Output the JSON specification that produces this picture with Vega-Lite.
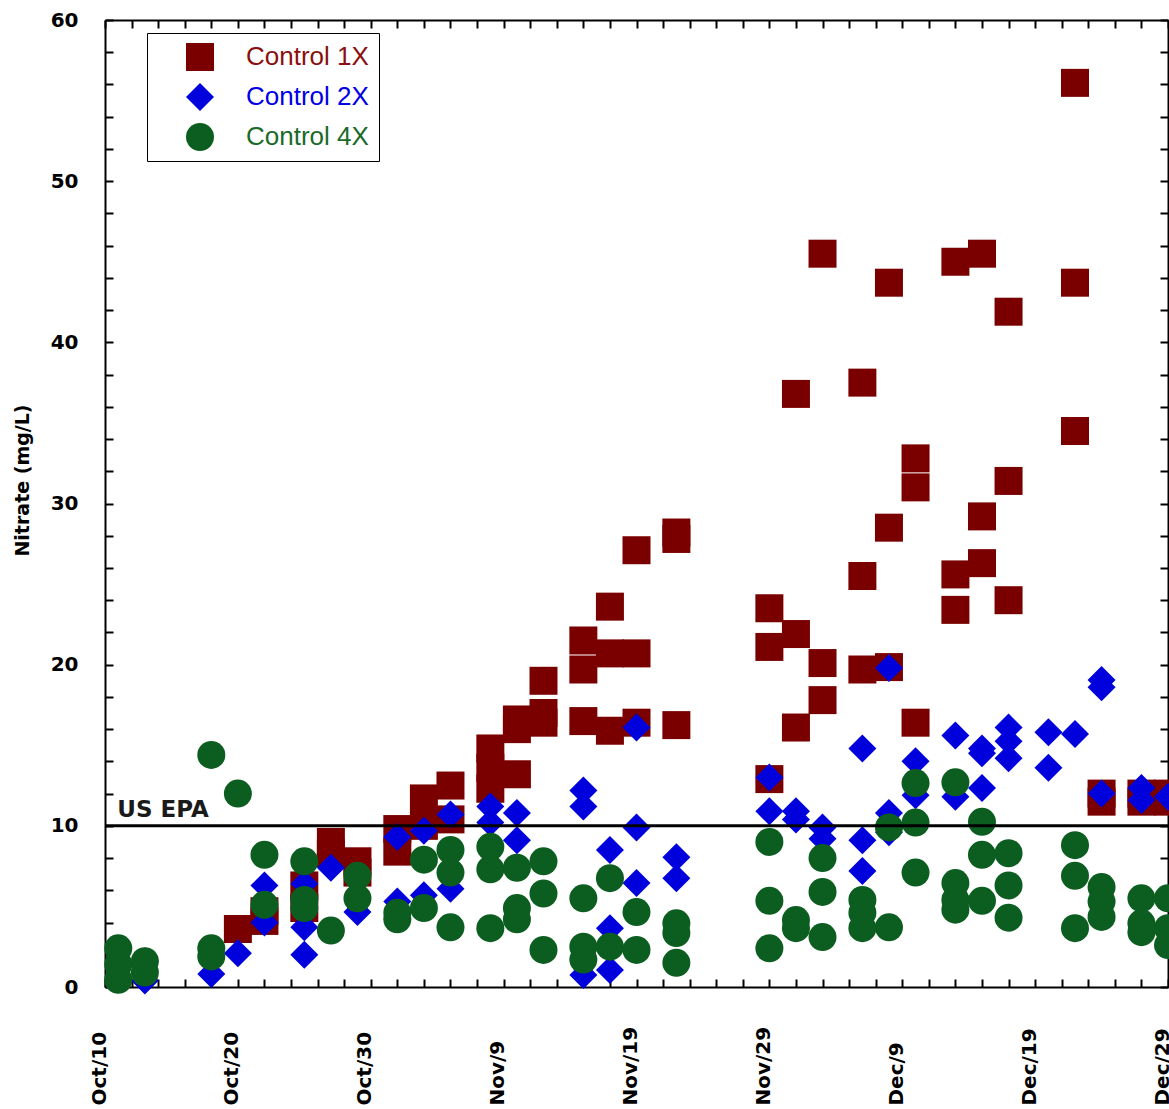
{
  "$schema": "https://vega.github.io/schema/vega-lite/v6.json",
  "width": 1063,
  "height": 967,
  "autosize": {"type": "none"},
  "padding": {"left": 105, "top": 20, "right": 1, "bottom": 122},
  "background": "white",
  "config": {"view": {"stroke": null}},
  "layer": [
    {
      "data": {"values": [
        {"date":"2000/10/20","series":"Control 1X","nitrate":3.6},
        {"date":"2000/10/22","series":"Control 1X","nitrate":4.7},
        {"date":"2000/10/22","series":"Control 1X","nitrate":4.1},
        {"date":"2000/10/25","series":"Control 1X","nitrate":6.3},
        {"date":"2000/10/25","series":"Control 1X","nitrate":4.9},
        {"date":"2000/10/27","series":"Control 1X","nitrate":9.0},
        {"date":"2000/10/27","series":"Control 1X","nitrate":8.3},
        {"date":"2000/10/29","series":"Control 1X","nitrate":7.8},
        {"date":"2000/10/29","series":"Control 1X","nitrate":7.1},
        {"date":"2000/11/01","series":"Control 1X","nitrate":9.8},
        {"date":"2000/11/01","series":"Control 1X","nitrate":8.4},
        {"date":"2000/11/03","series":"Control 1X","nitrate":11.7},
        {"date":"2000/11/03","series":"Control 1X","nitrate":10.0},
        {"date":"2000/11/05","series":"Control 1X","nitrate":12.5},
        {"date":"2000/11/05","series":"Control 1X","nitrate":10.4},
        {"date":"2000/11/08","series":"Control 1X","nitrate":14.8},
        {"date":"2000/11/08","series":"Control 1X","nitrate":13.6},
        {"date":"2000/11/08","series":"Control 1X","nitrate":12.3},
        {"date":"2000/11/10","series":"Control 1X","nitrate":16.6},
        {"date":"2000/11/10","series":"Control 1X","nitrate":16.0},
        {"date":"2000/11/10","series":"Control 1X","nitrate":13.2},
        {"date":"2000/11/12","series":"Control 1X","nitrate":19.0},
        {"date":"2000/11/12","series":"Control 1X","nitrate":17.0},
        {"date":"2000/11/12","series":"Control 1X","nitrate":16.4},
        {"date":"2000/11/15","series":"Control 1X","nitrate":21.5},
        {"date":"2000/11/15","series":"Control 1X","nitrate":19.7},
        {"date":"2000/11/15","series":"Control 1X","nitrate":16.5},
        {"date":"2000/11/17","series":"Control 1X","nitrate":23.6},
        {"date":"2000/11/17","series":"Control 1X","nitrate":20.7},
        {"date":"2000/11/17","series":"Control 1X","nitrate":15.9},
        {"date":"2000/11/19","series":"Control 1X","nitrate":27.1},
        {"date":"2000/11/19","series":"Control 1X","nitrate":20.7},
        {"date":"2000/11/19","series":"Control 1X","nitrate":16.4},
        {"date":"2000/11/22","series":"Control 1X","nitrate":28.2},
        {"date":"2000/11/22","series":"Control 1X","nitrate":27.8},
        {"date":"2000/11/22","series":"Control 1X","nitrate":16.25},
        {"date":"2000/11/29","series":"Control 1X","nitrate":23.5},
        {"date":"2000/11/29","series":"Control 1X","nitrate":21.1},
        {"date":"2000/11/29","series":"Control 1X","nitrate":12.9},
        {"date":"2000/12/01","series":"Control 1X","nitrate":36.8},
        {"date":"2000/12/01","series":"Control 1X","nitrate":21.9},
        {"date":"2000/12/01","series":"Control 1X","nitrate":16.1},
        {"date":"2000/12/03","series":"Control 1X","nitrate":45.5},
        {"date":"2000/12/03","series":"Control 1X","nitrate":20.1},
        {"date":"2000/12/03","series":"Control 1X","nitrate":17.8},
        {"date":"2000/12/06","series":"Control 1X","nitrate":37.5},
        {"date":"2000/12/06","series":"Control 1X","nitrate":25.5},
        {"date":"2000/12/06","series":"Control 1X","nitrate":19.7},
        {"date":"2000/12/08","series":"Control 1X","nitrate":43.7},
        {"date":"2000/12/08","series":"Control 1X","nitrate":28.5},
        {"date":"2000/12/08","series":"Control 1X","nitrate":19.85},
        {"date":"2000/12/10","series":"Control 1X","nitrate":32.8},
        {"date":"2000/12/10","series":"Control 1X","nitrate":31.0},
        {"date":"2000/12/10","series":"Control 1X","nitrate":16.4},
        {"date":"2000/12/13","series":"Control 1X","nitrate":45.0},
        {"date":"2000/12/13","series":"Control 1X","nitrate":25.6},
        {"date":"2000/12/13","series":"Control 1X","nitrate":23.4},
        {"date":"2000/12/15","series":"Control 1X","nitrate":45.5},
        {"date":"2000/12/15","series":"Control 1X","nitrate":29.2},
        {"date":"2000/12/15","series":"Control 1X","nitrate":26.3},
        {"date":"2000/12/17","series":"Control 1X","nitrate":41.9},
        {"date":"2000/12/17","series":"Control 1X","nitrate":31.4},
        {"date":"2000/12/17","series":"Control 1X","nitrate":24.0},
        {"date":"2000/12/22","series":"Control 1X","nitrate":56.1},
        {"date":"2000/12/22","series":"Control 1X","nitrate":43.7},
        {"date":"2000/12/22","series":"Control 1X","nitrate":34.5},
        {"date":"2000/12/24","series":"Control 1X","nitrate":12.0},
        {"date":"2000/12/24","series":"Control 1X","nitrate":11.5},
        {"date":"2000/12/27","series":"Control 1X","nitrate":12.0},
        {"date":"2000/12/27","series":"Control 1X","nitrate":11.5},
        {"date":"2000/12/29","series":"Control 1X","nitrate":12.0},
        {"date":"2000/12/29","series":"Control 1X","nitrate":11.5},

        {"date":"2000/10/13","series":"Control 2X","nitrate":1.6},
        {"date":"2000/10/13","series":"Control 2X","nitrate":0.4},
        {"date":"2000/10/18","series":"Control 2X","nitrate":0.8},
        {"date":"2000/10/20","series":"Control 2X","nitrate":2.1},
        {"date":"2000/10/22","series":"Control 2X","nitrate":6.3},
        {"date":"2000/10/22","series":"Control 2X","nitrate":4.0},
        {"date":"2000/10/25","series":"Control 2X","nitrate":6.4},
        {"date":"2000/10/25","series":"Control 2X","nitrate":3.7},
        {"date":"2000/10/25","series":"Control 2X","nitrate":2.0},
        {"date":"2000/10/27","series":"Control 2X","nitrate":7.4},
        {"date":"2000/10/29","series":"Control 2X","nitrate":4.65},
        {"date":"2000/11/01","series":"Control 2X","nitrate":9.3},
        {"date":"2000/11/01","series":"Control 2X","nitrate":5.3},
        {"date":"2000/11/03","series":"Control 2X","nitrate":9.7},
        {"date":"2000/11/03","series":"Control 2X","nitrate":5.7},
        {"date":"2000/11/05","series":"Control 2X","nitrate":10.7},
        {"date":"2000/11/05","series":"Control 2X","nitrate":6.1},
        {"date":"2000/11/08","series":"Control 2X","nitrate":11.2},
        {"date":"2000/11/08","series":"Control 2X","nitrate":10.2},
        {"date":"2000/11/10","series":"Control 2X","nitrate":10.8},
        {"date":"2000/11/10","series":"Control 2X","nitrate":9.1},
        {"date":"2000/11/15","series":"Control 2X","nitrate":12.2},
        {"date":"2000/11/15","series":"Control 2X","nitrate":11.2},
        {"date":"2000/11/15","series":"Control 2X","nitrate":0.75},
        {"date":"2000/11/17","series":"Control 2X","nitrate":8.5},
        {"date":"2000/11/17","series":"Control 2X","nitrate":3.65},
        {"date":"2000/11/17","series":"Control 2X","nitrate":1.05},
        {"date":"2000/11/19","series":"Control 2X","nitrate":16.1},
        {"date":"2000/11/19","series":"Control 2X","nitrate":9.9},
        {"date":"2000/11/19","series":"Control 2X","nitrate":6.45},
        {"date":"2000/11/22","series":"Control 2X","nitrate":8.05},
        {"date":"2000/11/22","series":"Control 2X","nitrate":6.75},
        {"date":"2000/11/29","series":"Control 2X","nitrate":13.0},
        {"date":"2000/11/29","series":"Control 2X","nitrate":10.9},
        {"date":"2000/12/01","series":"Control 2X","nitrate":10.9},
        {"date":"2000/12/01","series":"Control 2X","nitrate":10.4},
        {"date":"2000/12/03","series":"Control 2X","nitrate":9.9},
        {"date":"2000/12/03","series":"Control 2X","nitrate":9.2},
        {"date":"2000/12/06","series":"Control 2X","nitrate":14.8},
        {"date":"2000/12/06","series":"Control 2X","nitrate":9.1},
        {"date":"2000/12/06","series":"Control 2X","nitrate":7.2},
        {"date":"2000/12/08","series":"Control 2X","nitrate":19.8},
        {"date":"2000/12/08","series":"Control 2X","nitrate":10.8},
        {"date":"2000/12/08","series":"Control 2X","nitrate":9.6},
        {"date":"2000/12/10","series":"Control 2X","nitrate":14.0},
        {"date":"2000/12/10","series":"Control 2X","nitrate":11.9},
        {"date":"2000/12/13","series":"Control 2X","nitrate":15.6},
        {"date":"2000/12/13","series":"Control 2X","nitrate":11.8},
        {"date":"2000/12/15","series":"Control 2X","nitrate":14.8},
        {"date":"2000/12/15","series":"Control 2X","nitrate":14.5},
        {"date":"2000/12/15","series":"Control 2X","nitrate":12.35},
        {"date":"2000/12/17","series":"Control 2X","nitrate":16.1},
        {"date":"2000/12/17","series":"Control 2X","nitrate":15.25},
        {"date":"2000/12/17","series":"Control 2X","nitrate":14.2},
        {"date":"2000/12/20","series":"Control 2X","nitrate":15.8},
        {"date":"2000/12/20","series":"Control 2X","nitrate":13.6},
        {"date":"2000/12/22","series":"Control 2X","nitrate":15.7},
        {"date":"2000/12/24","series":"Control 2X","nitrate":19.05},
        {"date":"2000/12/24","series":"Control 2X","nitrate":18.6},
        {"date":"2000/12/24","series":"Control 2X","nitrate":12.0},
        {"date":"2000/12/27","series":"Control 2X","nitrate":12.35},
        {"date":"2000/12/27","series":"Control 2X","nitrate":11.6},
        {"date":"2000/12/29","series":"Control 2X","nitrate":11.8},

        {"date":"2000/10/11","series":"Control 4X","nitrate":2.4},
        {"date":"2000/10/11","series":"Control 4X","nitrate":1.4},
        {"date":"2000/10/11","series":"Control 4X","nitrate":0.45},
        {"date":"2000/10/13","series":"Control 4X","nitrate":1.6},
        {"date":"2000/10/13","series":"Control 4X","nitrate":0.9},
        {"date":"2000/10/18","series":"Control 4X","nitrate":14.4},
        {"date":"2000/10/18","series":"Control 4X","nitrate":2.4},
        {"date":"2000/10/18","series":"Control 4X","nitrate":1.9},
        {"date":"2000/10/20","series":"Control 4X","nitrate":12.0},
        {"date":"2000/10/22","series":"Control 4X","nitrate":8.2},
        {"date":"2000/10/22","series":"Control 4X","nitrate":5.1},
        {"date":"2000/10/25","series":"Control 4X","nitrate":7.8},
        {"date":"2000/10/25","series":"Control 4X","nitrate":5.4},
        {"date":"2000/10/25","series":"Control 4X","nitrate":4.9},
        {"date":"2000/10/27","series":"Control 4X","nitrate":3.5},
        {"date":"2000/10/29","series":"Control 4X","nitrate":6.9},
        {"date":"2000/10/29","series":"Control 4X","nitrate":5.5},
        {"date":"2000/11/01","series":"Control 4X","nitrate":4.6},
        {"date":"2000/11/01","series":"Control 4X","nitrate":4.2},
        {"date":"2000/11/03","series":"Control 4X","nitrate":7.9},
        {"date":"2000/11/03","series":"Control 4X","nitrate":4.9},
        {"date":"2000/11/05","series":"Control 4X","nitrate":8.5},
        {"date":"2000/11/05","series":"Control 4X","nitrate":7.1},
        {"date":"2000/11/05","series":"Control 4X","nitrate":3.7},
        {"date":"2000/11/08","series":"Control 4X","nitrate":8.7},
        {"date":"2000/11/08","series":"Control 4X","nitrate":7.3},
        {"date":"2000/11/08","series":"Control 4X","nitrate":3.65},
        {"date":"2000/11/10","series":"Control 4X","nitrate":7.4},
        {"date":"2000/11/10","series":"Control 4X","nitrate":4.9},
        {"date":"2000/11/10","series":"Control 4X","nitrate":4.2},
        {"date":"2000/11/12","series":"Control 4X","nitrate":7.8},
        {"date":"2000/11/12","series":"Control 4X","nitrate":5.8},
        {"date":"2000/11/12","series":"Control 4X","nitrate":2.3},
        {"date":"2000/11/15","series":"Control 4X","nitrate":5.5},
        {"date":"2000/11/15","series":"Control 4X","nitrate":2.5},
        {"date":"2000/11/15","series":"Control 4X","nitrate":1.7},
        {"date":"2000/11/17","series":"Control 4X","nitrate":6.75},
        {"date":"2000/11/17","series":"Control 4X","nitrate":2.5},
        {"date":"2000/11/19","series":"Control 4X","nitrate":4.65},
        {"date":"2000/11/19","series":"Control 4X","nitrate":2.3},
        {"date":"2000/11/22","series":"Control 4X","nitrate":3.95},
        {"date":"2000/11/22","series":"Control 4X","nitrate":3.35},
        {"date":"2000/11/22","series":"Control 4X","nitrate":1.5},
        {"date":"2000/11/29","series":"Control 4X","nitrate":9.0},
        {"date":"2000/11/29","series":"Control 4X","nitrate":5.35},
        {"date":"2000/11/29","series":"Control 4X","nitrate":2.4},
        {"date":"2000/12/01","series":"Control 4X","nitrate":4.15},
        {"date":"2000/12/01","series":"Control 4X","nitrate":3.65},
        {"date":"2000/12/03","series":"Control 4X","nitrate":8.0},
        {"date":"2000/12/03","series":"Control 4X","nitrate":5.9},
        {"date":"2000/12/03","series":"Control 4X","nitrate":3.1},
        {"date":"2000/12/06","series":"Control 4X","nitrate":5.4},
        {"date":"2000/12/06","series":"Control 4X","nitrate":4.6},
        {"date":"2000/12/06","series":"Control 4X","nitrate":3.65},
        {"date":"2000/12/08","series":"Control 4X","nitrate":9.9},
        {"date":"2000/12/08","series":"Control 4X","nitrate":3.7},
        {"date":"2000/12/10","series":"Control 4X","nitrate":12.65},
        {"date":"2000/12/10","series":"Control 4X","nitrate":10.2},
        {"date":"2000/12/10","series":"Control 4X","nitrate":7.1},
        {"date":"2000/12/13","series":"Control 4X","nitrate":12.7},
        {"date":"2000/12/13","series":"Control 4X","nitrate":6.45},
        {"date":"2000/12/13","series":"Control 4X","nitrate":5.4},
        {"date":"2000/12/13","series":"Control 4X","nitrate":4.8},
        {"date":"2000/12/15","series":"Control 4X","nitrate":10.25},
        {"date":"2000/12/15","series":"Control 4X","nitrate":8.2},
        {"date":"2000/12/15","series":"Control 4X","nitrate":5.35},
        {"date":"2000/12/17","series":"Control 4X","nitrate":8.3},
        {"date":"2000/12/17","series":"Control 4X","nitrate":6.3},
        {"date":"2000/12/17","series":"Control 4X","nitrate":4.3},
        {"date":"2000/12/22","series":"Control 4X","nitrate":8.8},
        {"date":"2000/12/22","series":"Control 4X","nitrate":6.9},
        {"date":"2000/12/22","series":"Control 4X","nitrate":3.65},
        {"date":"2000/12/24","series":"Control 4X","nitrate":6.2},
        {"date":"2000/12/24","series":"Control 4X","nitrate":5.3},
        {"date":"2000/12/24","series":"Control 4X","nitrate":4.35},
        {"date":"2000/12/27","series":"Control 4X","nitrate":5.5},
        {"date":"2000/12/27","series":"Control 4X","nitrate":3.95},
        {"date":"2000/12/27","series":"Control 4X","nitrate":3.4},
        {"date":"2000/12/29","series":"Control 4X","nitrate":5.5},
        {"date":"2000/12/29","series":"Control 4X","nitrate":3.65},
        {"date":"2000/12/29","series":"Control 4X","nitrate":2.6}
      ]},
      "mark": {"type": "point", "filled": true, "size": 784, "opacity": 1, "strokeWidth": 0, "clip": false},
      "encoding": {
        "x": {
          "field": "date", "type": "temporal",
          "scale": {"domain": [{"year":2000,"month":10,"date":10},{"year":2000,"month":12,"date":29}], "nice": false},
          "axis": {
            "orient": "bottom", "title": null, "grid": false,
            "values": [
              {"year":2000,"month":10,"date":10},{"year":2000,"month":10,"date":12},{"year":2000,"month":10,"date":14},{"year":2000,"month":10,"date":16},{"year":2000,"month":10,"date":18},{"year":2000,"month":10,"date":20},{"year":2000,"month":10,"date":22},{"year":2000,"month":10,"date":24},{"year":2000,"month":10,"date":26},{"year":2000,"month":10,"date":28},{"year":2000,"month":10,"date":30},
              {"year":2000,"month":11,"date":1},{"year":2000,"month":11,"date":3},{"year":2000,"month":11,"date":5},{"year":2000,"month":11,"date":7},{"year":2000,"month":11,"date":9},{"year":2000,"month":11,"date":11},{"year":2000,"month":11,"date":13},{"year":2000,"month":11,"date":15},{"year":2000,"month":11,"date":17},{"year":2000,"month":11,"date":19},{"year":2000,"month":11,"date":21},{"year":2000,"month":11,"date":23},{"year":2000,"month":11,"date":25},{"year":2000,"month":11,"date":27},{"year":2000,"month":11,"date":29},
              {"year":2000,"month":12,"date":1},{"year":2000,"month":12,"date":3},{"year":2000,"month":12,"date":5},{"year":2000,"month":12,"date":7},{"year":2000,"month":12,"date":9},{"year":2000,"month":12,"date":11},{"year":2000,"month":12,"date":13},{"year":2000,"month":12,"date":15},{"year":2000,"month":12,"date":17},{"year":2000,"month":12,"date":19},{"year":2000,"month":12,"date":21},{"year":2000,"month":12,"date":23},{"year":2000,"month":12,"date":25},{"year":2000,"month":12,"date":27},{"year":2000,"month":12,"date":29}
            ],
            "tickSize": -8, "tickWidth": 2, "tickColor": "black",
            "domainColor": "black", "domainWidth": 2,
            "labelExpr": "((month(datum.value)==9 && date(datum.value)%10==0) || (month(datum.value)>9 && date(datum.value)%10==9)) ? timeFormat(datum.value, '%b/%-d') : ''",
            "labelAngle": 270, "labelAlign": "left", "labelBaseline": "alphabetic",
            "labelPadding": 126, "labelOverlap": false, "labelFlush": false,
            "labelFont": "DejaVu Sans", "labelFontWeight": "bold", "labelFontSize": 20, "labelColor": "black",
            "encode": {"ticks": {"y2": {"condition": {"test": "(month(datum.value)==9 && date(datum.value)%10==0) || (month(datum.value)>9 && date(datum.value)%10==9)", "value": -14}, "value": -8}}}
          }
        },
        "y": {
          "field": "nitrate", "type": "quantitative",
          "scale": {"domain": [0, 60], "nice": false, "zero": true},
          "axis": {
            "orient": "left", "grid": false,
            "values": [0,2,4,6,8,10,12,14,16,18,20,22,24,26,28,30,32,34,36,38,40,42,44,46,48,50,52,54,56,58,60],
            "tickSize": -8, "tickWidth": 2, "tickColor": "black",
            "domainColor": "black", "domainWidth": 2,
            "labelExpr": "datum.value % 10 == 0 ? datum.label : ''",
            "labelPadding": 35, "labelOverlap": false, "labelFlush": false, "labelBaseline": "middle",
            "labelFont": "DejaVu Sans", "labelFontWeight": "bold", "labelFontSize": 20, "labelColor": "black",
            "title": "Nitrate (mg/L)",
            "titleFont": "DejaVu Sans", "titleFontWeight": "bold", "titleFontSize": 19, "titleColor": "black",
            "titleX": -83, "titleY": 460, "titleAngle": 270, "titleAlign": "center", "titleBaseline": "middle",
            "encode": {"ticks": {"x2": {"condition": {"test": "datum.value % 10 == 0", "value": 14}, "value": 8}}}
          }
        },
        "color": {
          "field": "series", "type": "nominal",
          "scale": {"domain": ["Control 1X", "Control 2X", "Control 4X"], "range": ["#7A0000", "#0000DD", "#0B5E1F"]},
          "legend": {
            "orient": "none", "legendX": 42, "legendY": 13, "title": null,
            "padding": 10, "strokeColor": "black", "fillColor": "white",
            "symbolSize": 784, "symbolStrokeWidth": 0, "symbolOpacity": 1, "symbolOffset": 29,
            "labelFont": "Liberation Sans", "labelFontSize": 26, "labelOffset": 32, "rowPadding": 12,
            "labelColor": {"expr": "datum.value == 'Control 1X' ? '#8A1010' : (datum.value == 'Control 2X' ? '#0000E6' : '#1A6A2A')"}
          }
        },
        "shape": {
          "field": "series", "type": "nominal",
          "scale": {"domain": ["Control 1X", "Control 2X", "Control 4X"], "range": ["square", "diamond", "circle"]},
          "legend": {
            "orient": "none", "legendX": 42, "legendY": 13, "title": null,
            "padding": 10, "strokeColor": "black", "fillColor": "white",
            "symbolSize": 784, "symbolStrokeWidth": 0, "symbolOpacity": 1, "symbolOffset": 29,
            "labelFont": "Liberation Sans", "labelFontSize": 26, "labelOffset": 32, "rowPadding": 12,
            "labelColor": {"expr": "datum.value == 'Control 1X' ? '#8A1010' : (datum.value == 'Control 2X' ? '#0000E6' : '#1A6A2A')"}
          }
        }
      }
    },
    {
      "data": {"values": [{"level": 10}]},
      "mark": {"type": "rule", "color": "black", "strokeWidth": 3},
      "encoding": {
        "y": {"field": "level", "type": "quantitative", "scale": {"domain": [0, 60], "nice": false}, "axis": null}
      }
    },
    {
      "data": {"values": [{"date": "2000/10/11", "level": 10, "label": "US EPA"}]},
      "mark": {"type": "text", "align": "left", "baseline": "alphabetic", "dx": -1, "dy": -9, "font": "DejaVu Sans", "fontWeight": "bold", "fontSize": 23, "color": "#1a1a1a"},
      "encoding": {
        "x": {
          "field": "date", "type": "temporal",
          "scale": {"domain": [{"year":2000,"month":10,"date":10},{"year":2000,"month":12,"date":29}], "nice": false},
          "axis": {
            "orient": "top", "title": null, "grid": false, "labels": false,
            "values": [
              {"year":2000,"month":10,"date":10},{"year":2000,"month":10,"date":12},{"year":2000,"month":10,"date":14},{"year":2000,"month":10,"date":16},{"year":2000,"month":10,"date":18},{"year":2000,"month":10,"date":20},{"year":2000,"month":10,"date":22},{"year":2000,"month":10,"date":24},{"year":2000,"month":10,"date":26},{"year":2000,"month":10,"date":28},{"year":2000,"month":10,"date":30},
              {"year":2000,"month":11,"date":1},{"year":2000,"month":11,"date":3},{"year":2000,"month":11,"date":5},{"year":2000,"month":11,"date":7},{"year":2000,"month":11,"date":9},{"year":2000,"month":11,"date":11},{"year":2000,"month":11,"date":13},{"year":2000,"month":11,"date":15},{"year":2000,"month":11,"date":17},{"year":2000,"month":11,"date":19},{"year":2000,"month":11,"date":21},{"year":2000,"month":11,"date":23},{"year":2000,"month":11,"date":25},{"year":2000,"month":11,"date":27},{"year":2000,"month":11,"date":29},
              {"year":2000,"month":12,"date":1},{"year":2000,"month":12,"date":3},{"year":2000,"month":12,"date":5},{"year":2000,"month":12,"date":7},{"year":2000,"month":12,"date":9},{"year":2000,"month":12,"date":11},{"year":2000,"month":12,"date":13},{"year":2000,"month":12,"date":15},{"year":2000,"month":12,"date":17},{"year":2000,"month":12,"date":19},{"year":2000,"month":12,"date":21},{"year":2000,"month":12,"date":23},{"year":2000,"month":12,"date":25},{"year":2000,"month":12,"date":27},{"year":2000,"month":12,"date":29}
            ],
            "tickSize": -8, "tickWidth": 2, "tickColor": "black",
            "domainColor": "black", "domainWidth": 2,
            "encode": {"ticks": {"y2": {"condition": {"test": "(month(datum.value)==9 && date(datum.value)%10==0) || (month(datum.value)>9 && date(datum.value)%10==9)", "value": 14}, "value": 8}}}
          }
        },
        "y": {
          "field": "level", "type": "quantitative",
          "scale": {"domain": [0, 60], "nice": false},
          "axis": {
            "orient": "right", "title": null, "grid": false, "labels": false,
            "values": [0,2,4,6,8,10,12,14,16,18,20,22,24,26,28,30,32,34,36,38,40,42,44,46,48,50,52,54,56,58,60],
            "tickSize": -8, "tickWidth": 2, "tickColor": "black",
            "domainColor": "black", "domainWidth": 2,
            "encode": {"ticks": {"x2": {"condition": {"test": "datum.value % 10 == 0", "value": -14}, "value": -8}}}
          }
        },
        "text": {"field": "label"}
      }
    }
  ],
  "resolve": {"axis": {"x": "independent", "y": "independent"}}
}
